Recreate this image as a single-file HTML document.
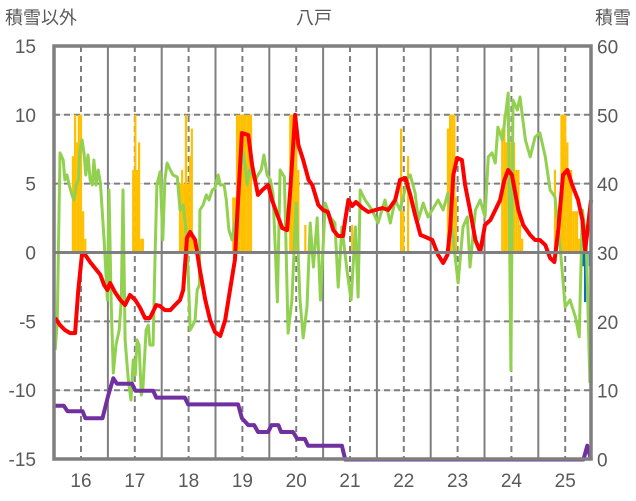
<!DOCTYPE html>
<html><head><meta charset="utf-8">
<style>
html,body{margin:0;padding:0;background:#fff;}
svg{display:block;font-family:"Liberation Sans","Noto Sans CJK JP",sans-serif;}
</style></head>
<body>
<svg id="chart" width="636" height="501" viewBox="0 0 636 501" xmlns="http://www.w3.org/2000/svg">
<text x="314" y="24" font-size="18" fill="#595959" text-anchor="middle">八戸</text>
<text x="5" y="24" font-size="18" fill="#595959">積雪以外</text>
<text x="631" y="24" font-size="18" fill="#595959" text-anchor="end">積雪</text>
<g id="grid"></g>
<g id="bars"></g>
<g id="lines"></g>
<g id="frame"></g>
<g id="ticks"></g>
</svg>
<script>
const yearTicks = [16,17,18,19,20,21,22,23,24,25];
const leftTicks = [15,10,5,0,-5,-10,-15];
const rightTicks = [60,50,40,30,20,10,0];

const redT = [15.52,15.61,15.70,15.80,15.89,15.95,16.02,16.08,16.17,16.26,16.36,16.43,16.49,16.54,16.63,16.73,16.82,16.91,17.01,17.10,17.19,17.28,17.40,17.47,17.56,17.66,17.75,17.84,17.90,17.97,18.03,18.12,18.21,18.31,18.40,18.49,18.59,18.68,18.77,18.86,18.92,18.99,19.11,19.18,19.29,19.37,19.48,19.55,19.65,19.74,19.83,19.89,19.98,20.04,20.13,20.23,20.30,20.41,20.50,20.59,20.69,20.78,20.87,20.91,20.97,21.04,21.11,21.23,21.34,21.47,21.60,21.71,21.84,21.93,22.03,22.12,22.21,22.31,22.40,22.53,22.64,22.73,22.81,22.86,22.92,22.99,23.08,23.14,23.23,23.33,23.42,23.51,23.61,23.70,23.79,23.87,23.94,24.01,24.13,24.22,24.35,24.44,24.53,24.63,24.72,24.80,24.87,24.96,25.04,25.13,25.24,25.32,25.37,25.41,25.48];
const redV = [-4.76,-5.27,-5.63,-5.85,-5.85,-2.72,-0.04,-0.18,-0.69,-1.13,-1.63,-2.36,-2.72,-2.21,-2.87,-3.45,-3.81,-3.09,-3.45,-4.03,-4.76,-4.76,-3.81,-3.89,-4.18,-4.18,-3.81,-3.45,-2.72,1.05,1.49,0.91,-1.27,-3.45,-4.90,-5.77,-6.06,-4.90,-2.72,-0.54,3.81,8.68,8.53,6.35,4.18,4.54,4.90,3.81,2.72,1.78,1.63,4.54,9.99,7.81,6.72,5.27,4.90,3.45,3.09,2.94,1.63,1.20,1.20,2.36,3.81,3.38,3.67,3.23,2.94,3.09,3.23,3.09,3.81,5.27,5.41,4.18,2.72,1.27,1.13,0.91,-0.18,-0.76,-0.18,1.63,5.63,6.86,6.72,4.90,3.09,0.91,0.04,2.0,2.36,3.09,3.81,5.27,5.99,5.63,3.09,2.0,1.27,0.91,0.91,0.54,-0.40,-0.69,1.63,5.63,5.99,4.90,3.81,2.36,0.18,1.49,3.81];

const greenT = [15.52,15.56,15.61,15.67,15.70,15.74,15.78,15.83,15.87,15.91,15.95,15.98,16.02,16.06,16.09,16.13,16.17,16.21,16.24,16.28,16.32,16.36,16.43,16.49,16.52,16.56,16.60,16.65,16.71,16.75,16.78,16.82,16.88,16.93,16.97,17.01,17.04,17.08,17.12,17.15,17.21,17.25,17.28,17.34,17.38,17.41,17.47,17.52,17.56,17.60,17.66,17.71,17.79,17.84,17.90,17.95,17.99,18.03,18.08,18.12,18.16,18.20,18.21,18.27,18.33,18.38,18.44,18.49,18.55,18.59,18.66,18.70,18.75,18.81,18.86,18.92,18.96,19.01,19.05,19.09,19.13,19.18,19.24,19.29,19.35,19.40,19.46,19.52,19.57,19.65,19.70,19.78,19.85,19.92,20.00,20.07,20.13,20.20,20.26,20.32,20.39,20.45,20.54,20.63,20.72,20.78,20.85,20.95,21.02,21.10,21.15,21.19,21.28,21.41,21.52,21.65,21.75,21.84,21.93,22.08,22.12,22.21,22.27,22.36,22.45,22.55,22.64,22.73,22.82,22.92,23.01,23.10,23.18,23.23,23.33,23.42,23.51,23.57,23.64,23.70,23.75,23.83,23.88,23.94,23.99,24.03,24.11,24.16,24.26,24.35,24.44,24.53,24.63,24.72,24.81,24.91,25.00,25.09,25.19,25.26,25.32,25.39,25.46];
const greenV = [-7.08,-4.90,7.23,6.72,5.27,5.63,4.90,4.18,3.81,4.90,5.27,7.44,8.17,7.08,5.63,7.08,5.27,4.90,6.72,4.90,5.99,5.05,0.91,-3.45,4.54,-3.45,-8.75,-6.72,-5.63,-3.45,4.54,-6.35,-9.26,-10.71,-7.81,-8.90,-6.35,-6.72,-10.35,-9.84,-5.63,-5.27,-6.72,-6.72,0.18,4.90,5.85,0.91,5.27,6.50,5.99,5.63,5.48,3.09,3.45,1.63,-1.27,-5.63,-5.27,-4.90,-2.72,-2.36,3.09,3.45,4.18,3.81,4.54,4.68,5.63,4.90,4.90,3.81,1.63,0.91,2.36,3.81,5.63,7.44,6.35,4.90,5.99,5.63,5.27,5.63,5.99,7.08,5.63,5.27,4.18,-3.59,5.99,5.48,-5.85,-3.45,3.59,-3.45,-6.21,-3.96,2.14,-1.05,2.51,-3.45,3.59,2.58,2.14,-2.51,1.85,-1.49,-3.45,1.85,-3.23,4.54,3.81,3.09,2.14,3.81,2.14,3.81,3.09,5.48,5.63,4.32,2.36,3.59,2.58,3.23,3.81,3.09,4.32,0.91,-2.21,1.85,2.58,-1.05,3.09,3.81,2.58,6.94,7.23,6.50,9.11,8.17,9.62,11.58,-8.53,11.07,10.35,11.29,8.17,6.94,8.39,8.68,6.94,4.54,4.03,0.18,-3.96,-3.45,-4.68,-6.13,3.09,0.91,-9.48];

const snowT = [15.52,15.68,15.75,16.03,16.08,16.40,16.51,16.60,16.67,16.95,17.01,17.34,17.40,17.93,17.99,18.92,18.99,19.11,19.22,19.29,19.48,19.54,19.67,19.72,19.94,20.02,20.16,20.22,20.85,20.91,25.34,25.41,25.48];
const snowV = [7.8,7.8,7,7,6,6,9.4,11.8,11,11,10,10,9,9,8,8,6,5,5,4,4,5,5,4,4,3,3,2,2,0,0,2,0];

const orangeT = [15.85,15.89,15.93,15.96,16.00,16.04,16.08,16.97,17.01,17.04,17.08,17.12,17.15,17.84,17.88,17.92,17.95,17.99,18.03,18.06,18.08,18.83,18.86,18.90,18.94,18.98,19.01,19.05,19.09,19.12,19.16,19.89,19.92,19.96,20.00,20.04,20.17,21.04,21.95,21.99,22.08,22.82,22.86,22.90,22.94,22.97,23.83,23.87,23.90,23.94,23.98,24.01,24.05,24.09,24.13,24.16,24.20,24.81,24.93,24.96,25.00,25.04,25.07,25.11,25.15,25.19,25.22,25.26];
const orangeV = [7,10,8,10,10,3,1,6,10,6,8,1,1,5,6,5,10,5,7,9,1,4,4,10,10,10,10,10,10,10,10,10,10,10,10,6,2,2,9,3,7,9,10,10,10,4,9,10,8,8,8,8,8,6,6,2,1,6,10,10,10,8,6,6,3,3,3,1];
const blueT = [25.33,25.37,25.41,25.46];
const blueV = [-1,-3.6,-1.5,-1];

const NS='http://www.w3.org/2000/svg';
const X0=54, X1=591, Y0=46, Y1=459;
function xs(t){return 81+(t-16)*53.8;}
function yl(v){return 252.5-v*13.77;}
function yr(v){return 459.5-v*6.883;}
function mk(tag,attrs,parent){const e=document.createElementNS(NS,tag);for(const k in attrs)e.setAttribute(k,attrs[k]);parent.appendChild(e);return e;}

const grid=document.getElementById('grid');
// horizontal gridlines
leftTicks.forEach(v=>{
  if(v===15||v===-15||v===0)return;
  const y=yl(v);
  const l1=mk('line',{x1:X0,x2:X1,y1:y,y2:y,stroke:'#d9d9d9','stroke-width':1},grid);
  
  
  const l2=mk('line',{x1:X0,x2:X1,y1:y,y2:y,stroke:'#7f7f7f','stroke-width':2,'stroke-dasharray':'6,4'},grid);
  
  
});
// vertical lines
yearTicks.forEach(yr0=>{
  const xd=xs(yr0);
  const d=mk('line',{x1:xd,x2:xd,y1:Y0,y2:Y1,stroke:'#7f7f7f','stroke-width':2,'stroke-dasharray':'6,4'},grid);
  
  
  const xsld=xs(yr0+0.5);
  if(xsld<X1-3){
    const s=mk('line',{x1:xsld,x2:xsld,y1:Y0,y2:Y1,stroke:'#7f7f7f','stroke-width':2},grid);
    
    
  }
});

const bars=document.getElementById('bars');
orangeT.forEach((t,i)=>{
  const v=orangeV[i];const x=xs(t);
  const r=mk('rect',{x:x-1.1,y:yl(v),width:2.2,height:yl(0)-yl(v),fill:'#ffc000'},bars);
  
  
});
blueT.forEach((t,i)=>{
  const v=blueV[i];const x=xs(t);
  const r=mk('rect',{x:x-1.1,y:yl(0),width:2.2,height:yl(v)-yl(0),fill:'#0070c0'},bars);
  
  
});

const lines=document.getElementById('lines');
function poly(T,V,yf,color,w,name){
  const pts=T.map((t,i)=>xs(t).toFixed(1)+','+yf(V[i]).toFixed(1)).join(' ');
  const p=mk('polyline',{points:pts,fill:'none',stroke:color,'stroke-width':w,'stroke-linejoin':'round'},lines);
  
  
}
poly(greenT,greenV,yl,'#92d050',3,'green-series-line');
poly(redT,redV,yl,'#ff0000',4,'red-series-line');
poly(snowT,snowV,yr,'#7030a0',4,'snow-depth-line');

const frame=document.getElementById('frame');
const zl=mk('line',{x1:X0,x2:X1,y1:yl(0),y2:yl(0),stroke:'#7f7f7f','stroke-width':3},frame);


const fr=mk('rect',{x:X0,y:Y0,width:X1-X0,height:Y1-Y0,fill:'none',stroke:'#7f7f7f','stroke-width':3.5},frame);



const ticks=document.getElementById('ticks');
leftTicks.forEach(v=>{
  const t=mk('text',{x:36,y:yl(v)+7,'font-size':19,fill:'#595959','text-anchor':'end'},ticks);
  t.textContent=v;
  
  
});
rightTicks.forEach(v=>{
  const t=mk('text',{x:597,y:yr(v)+7,'font-size':19,fill:'#595959'},ticks);
  t.textContent=v;
  
  
});
yearTicks.forEach(v=>{
  const t=mk('text',{x:xs(v),y:487,'font-size':19,fill:'#595959','text-anchor':'middle'},ticks);
  t.textContent=v;
  
  
});
</script>
</body></html>
